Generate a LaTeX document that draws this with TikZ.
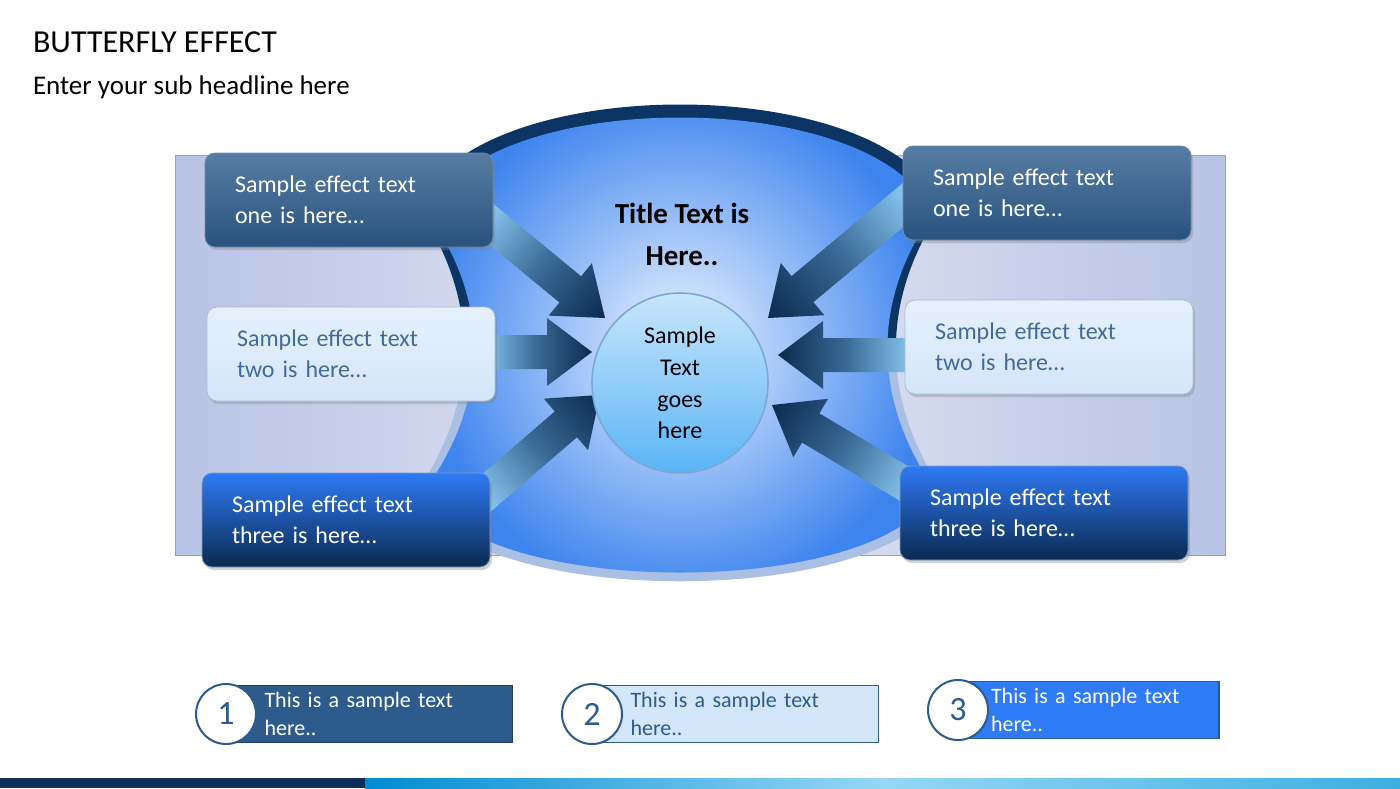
\documentclass[tikz,border=0pt]{standalone}
\usepackage{fontspec}
\setmainfont{Carlito}
\usetikzlibrary{shadows,shapes.geometric}
\definecolor{navy}{HTML}{0D3563}
\definecolor{bdark}{HTML}{2D5C8C}
\definecolor{bpale}{HTML}{D4E6FA}
\definecolor{bbright}{HTML}{2F7AF5}
\definecolor{panelE}{HTML}{B8C3E5}
\definecolor{panelM}{HTML}{E4E7F3}
\definecolor{arlight}{HTML}{8CCBF5}
\definecolor{armid}{HTML}{3A6A95}
\definecolor{ardark}{HTML}{0A2A50}
\definecolor{wingbot}{HTML}{A9BFE3}
\definecolor{corelineC}{HTML}{7AA8D8}
\definecolor{coretop}{HTML}{C8E6FC}
\definecolor{corebot}{HTML}{5AB4F5}
\definecolor{wingin}{HTML}{ECF4FF}
\definecolor{wingout}{HTML}{3D84EE}
\definecolor{footA}{HTML}{008CD2}
\definecolor{footB}{HTML}{96D7F5}
\definecolor{footC}{HTML}{3CAFE1}
\tikzset{
  box/.style={rounded corners=5pt, minimum width=144pt, minimum height=47pt, text width=114pt, align=left, inner xsep=15pt, font=\fontsize{12}{15.5}\selectfont, drop shadow={opacity=0.35,shadow xshift=1pt,shadow yshift=-1.5pt}},
  boxA/.style={box, top color=bdark!80!white, bottom color=bdark!90!black, draw=bdark!70!white, text=white},
  boxB/.style={box, top color=bpale!60!white, bottom color=bpale, draw=bdark!40!white, text=bdark!90!white},
  boxC/.style={box, top color=bbright, bottom color=ardark, draw=bdark!60!white, text=white},
  numc/.style={circle, draw=bdark, line width=1pt, fill=white, minimum size=30pt, inner sep=0pt, font=\fontsize{17}{17}\selectfont, text=bdark},
  tag/.style={minimum width=134.5pt, minimum height=28pt, text width=110pt, align=left, inner xsep=14pt, line width=0.8pt, font=\fontsize{11}{14}\selectfont}
}
\newcommand{\myarrow}[4]{%
  \pgfmathsetmacro{\ang}{atan2(-(#4-#2),(#3-#1))}%
  \pgfmathsetmacro{\len}{veclen(#3-#1,#4-#2)}%
  \begin{scope}[transform canvas={shift={(#1,#2)},rotate=\ang}]
    \shade[left color=arlight, right color=ardark, middle color=armid]
      (0,-17) -- (\len-45,-17) -- (\len-45,-34) -- (\len,0) -- (\len-45,34) -- (\len-45,17) -- (0,17) -- cycle;
  \end{scope}}
\begin{document}
\begin{tikzpicture}[x=0.5pt,y=-0.5pt]
\useasboundingbox (0,0) rectangle (1400,788);
\fill[white] (0,0) rectangle (1400,788);
% header
\node[anchor=west, font=\fontsize{16}{16}\selectfont] (h1) at (26,42) {BUTTERFLY EFFECT};
\node[anchor=west, font=\fontsize{13.5}{13.5}\selectfont] (h2) at (26,87) {Enter your sub headline here};
% panel
\shade[left color=panelE, right color=panelE, middle color=panelM, draw=panelE!80!blue] (175,155) rectangle (1225,555);
% butterfly shape
\begin{scope}
\clip (418,208) .. controls (470,70) and (890,70) .. (942,208) .. controls (880,300) and (880,400) .. (945,495) .. controls (890,610) and (470,610) .. (415,495) .. controls (480,400) and (480,300) .. (418,208) -- cycle;
\fill[navy] (400,60) rectangle (960,345);
\fill[wingbot] (400,345) rectangle (960,620);
\end{scope}
\shade[inner color=wingin, outer color=wingout]
 (428,215) .. controls (478,85) and (882,85) .. (932,215) .. controls (872,300) and (872,400) .. (935,490) .. controls (885,600) and (475,600) .. (425,490) .. controls (490,400) and (490,300) .. (428,215) -- cycle;
% arrows
\myarrow{480}{215}{605}{318}
\myarrow{480}{352}{592}{352}
\myarrow{478}{500}{600}{395}
\myarrow{915}{195}{768}{318}
\myarrow{915}{355}{778}{355}
\myarrow{915}{490}{772}{405}
% title
\node[font=\bfseries\fontsize{14.5}{21}\selectfont, align=center] (title) at (682,234) {Title Text is\\Here..};
% centre circle
\node[ellipse, minimum width=88pt, minimum height=90pt, inner sep=0pt, draw=corelineC, line width=0.8pt,
  top color=coretop, bottom color=corebot, align=center,
  font=\fontsize{12}{15.8}\selectfont] (core) at (680,383) {Sample\\Text\\goes\\here};
% boxes
\node[boxA] (L1) at (349,200) {Sample effect text\\one is here…};
\node[boxB] (L2) at (351,354) {Sample effect text\\two is here…};
\node[boxC] (L3) at (346,520) {Sample effect text\\three is here…};
\node[boxA] (R1) at (1047,193) {Sample effect text\\one is here…};
\node[boxB] (R2) at (1049,347) {Sample effect text\\two is here…};
\node[boxC] (R3) at (1044,513) {Sample effect text\\three is here…};
% bottom tags
\node[tag, fill=bdark, draw=bdark!70!black, text=white] (t1) at (374.5,714) {This is a sample text\\here..};
\node[tag, fill=bpale, draw=bdark, text=bdark] (t2) at (740.5,714) {This is a sample text\\here..};
\node[tag, fill=bbright, draw=bdark, text=white, minimum width=119pt, text width=100pt] (t3) at (1091,710) {This is a sample text\\here..};
\node[numc] (n1) at (226,714) {1};
\node[numc] (n2) at (592,714) {2};
\node[numc] (n3) at (958,710) {3};
% footer
\fill[navy!90!black] (0,778) rectangle (365,788);
\shade[left color=footA, right color=footC, middle color=footB] (365,778) rectangle (1400,788);
\end{tikzpicture}
\end{document}
